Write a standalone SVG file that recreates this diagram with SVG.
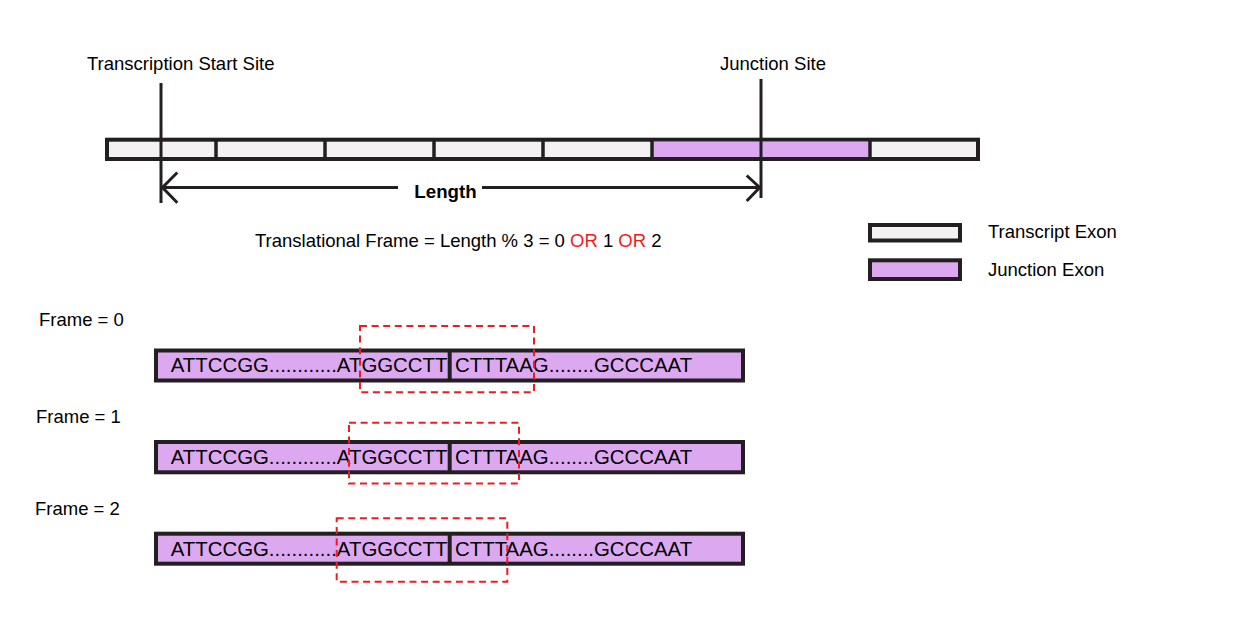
<svg xmlns="http://www.w3.org/2000/svg" width="1240" height="618" viewBox="0 0 1240 618">
<style>
text{font-family:"Liberation Sans",Arial,sans-serif;font-size:18.5px;fill:#000}
.seq{font-size:20.4px}
.red{fill:#ED1C24}
.bar{stroke:#231F20;stroke-width:4}
.tx{fill:#F2F2F2}
.jx{fill:#DCA9F1}
.div{stroke:#231F20;stroke-width:3.5}
.ln{stroke:#231F20;stroke-width:3;fill:none}
.box{fill:none;stroke:#ED1C24;stroke-width:2;stroke-dasharray:7 4.6}
</style>
<rect width="1240" height="618" fill="#fff"/>

<g id="transcript">
<rect class="bar tx" x="107" y="139.7" width="871" height="19.3"/>
<rect class="jx" x="652" y="141.7" width="218" height="15.3"/>
<line class="div" x1="216" y1="139.7" x2="216" y2="159"/>
<line class="div" x1="325" y1="139.7" x2="325" y2="159"/>
<line class="div" x1="434" y1="139.7" x2="434" y2="159"/>
<line class="div" x1="543" y1="139.7" x2="543" y2="159"/>
<line class="div" x1="652" y1="139.7" x2="652" y2="159"/>
<line class="div" x1="870" y1="139.7" x2="870" y2="159"/>
</g>

<g id="tss">
<text x="87" y="70">Transcription Start Site</text>
</g>
<g id="junction-site">
<text x="720" y="70">Junction Site</text>
</g>

<g id="connectors">
<line class="ln" x1="161" y1="83" x2="161" y2="203"/>
<line class="ln" x1="761" y1="79" x2="761" y2="198"/>
<line class="ln" x1="162" y1="187.5" x2="398" y2="187.5"/>
<line class="ln" x1="482" y1="187.5" x2="760" y2="187.5"/>
<polyline class="ln" points="177.3,172.5 162.5,187.5 177.3,202.7"/>
<polyline class="ln" points="746.7,175.5 759.7,187.5 746.7,201"/>
</g>

<g id="length-label">
<text x="445.5" y="197.5" text-anchor="middle" font-weight="bold" style="font-size:18.7px">Length</text>
</g>

<g id="formula">
<text x="255" y="246.7">Translational Frame = Length % 3 = 0 <tspan class="red">OR</tspan> 1 <tspan class="red">OR</tspan> 2</text>
</g>

<g id="legend-transcript">
<rect class="bar tx" x="870" y="225" width="90" height="15.5"/>
<text x="988" y="238.3">Transcript Exon</text>
</g>
<g id="legend-junction">
<rect class="bar jx" x="870" y="260.3" width="90" height="18.7"/>
<text x="988" y="276">Junction Exon</text>
</g>

<g id="frame0">
<text x="39" y="326">Frame = 0</text>
<rect class="bar jx" x="156" y="350.5" width="587" height="30"/>
<line class="div" x1="449.7" y1="350.5" x2="449.7" y2="380.5" style="stroke-width:4"/>
<text class="seq" x="170.7" y="372.2">ATTCCGG............ATGGCCTT</text>
<text class="seq" x="455" y="372.2">CTTTAAG........GCCCAAT</text>
<rect class="box" x="360" y="326" width="174" height="66.3"/>
</g>

<g id="frame1">
<text x="36" y="423">Frame = 1</text>
<rect class="bar jx" x="156" y="442" width="587" height="30.3"/>
<line class="div" x1="449.7" y1="442" x2="449.7" y2="472.3" style="stroke-width:4"/>
<text class="seq" x="170.7" y="464">ATTCCGG............ATGGCCTT</text>
<text class="seq" x="455" y="464">CTTTAAG........GCCCAAT</text>
<rect class="box" x="349" y="422.7" width="170" height="60.8"/>
</g>

<g id="frame2">
<text x="35" y="515">Frame = 2</text>
<rect class="bar jx" x="156" y="533.7" width="587" height="30"/>
<line class="div" x1="449.7" y1="533.7" x2="449.7" y2="563.7" style="stroke-width:4"/>
<text class="seq" x="170.7" y="555.5">ATTCCGG............ATGGCCTT</text>
<text class="seq" x="455" y="555.5">CTTTAAG........GCCCAAT</text>
<rect class="box" x="336.7" y="518.3" width="170.6" height="63.4"/>
</g>
</svg>
